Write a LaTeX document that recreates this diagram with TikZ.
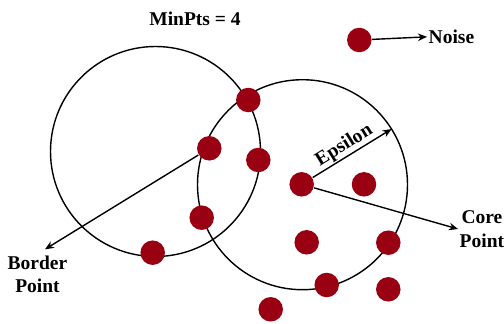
\documentclass[tikz,border=0pt]{standalone}
\usepackage{fontspec}
\setmainfont{Liberation Serif}
\usepackage{tikz}
\usetikzlibrary{arrows.meta, positioning}
\tikzset{>={Stealth[length=9pt,width=7.5pt]}}
\definecolor{mydarkred}{HTML}{990012}

\begin{document}
\begin{tikzpicture}[x=1pt, y=-1pt, line width=1.4pt,
	pt/.style={circle, fill=mydarkred, minimum size=24.5pt, inner sep=0pt},
	ring/.style={circle, draw, minimum size=210pt, inner sep=0pt, outer sep=0pt},
	lbl/.style={font=\fontsize{19.5}{23.3}\selectfont\bfseries, align=center, inner sep=1pt}]
				\useasboundingbox (0,0) rectangle (504,324);
				\node[ring] (lring) at (155.5,151.5) {};
				\node[ring] (rring) at (302.5,184.7) {};
				\node[lbl, anchor=base] (minpts) at (195,26) {MinPts = 4};
				\node[pt] (noise) at (359.3,40) {};
				\node[lbl, anchor=base west] (noiselbl) at (427,43.5) {Noise};
				\node[pt] (top) at (248.3,100) {};
				\node[pt] (border) at (209.3,148.3) {};
				\node[pt] (mid) at (258.3,160) {};
				\node[pt] (core) at (301.7,184.3) {};
				\node[pt] (near) at (364,184.3) {};
				\node[pt] (lowl) at (201.7,217.7) {};
				\node[pt] (lowb) at (152.7,252.7) {};
				\node[pt] (cl) at (306.7,242.3) {};
				\node[pt] (cr) at (388.3,242.7) {};
				\node[pt] (bot) at (326.7,285) {};
				\node[pt] (br) at (388.3,289.3) {};
				\node[pt] (far) at (270.7,309.3) {};
				\node[lbl, anchor=west] (corelbl) at (458,229) {Core\\Point};
				\node[lbl] (borderlbl) at (37.5,274) {Border\\Point};
				\coordinate (bordertip) at (45,249.3);
				\draw[->] (noise) -- (noiselbl.west);
				\draw[->] (core) -- (rring.32.5) node[lbl, sloped, above, pos=0.47]{Epsilon};
				\draw[->] (core) -- (corelbl.west);
				\draw[->] (border) -- (bordertip);
			\end{tikzpicture}
\end{document}
